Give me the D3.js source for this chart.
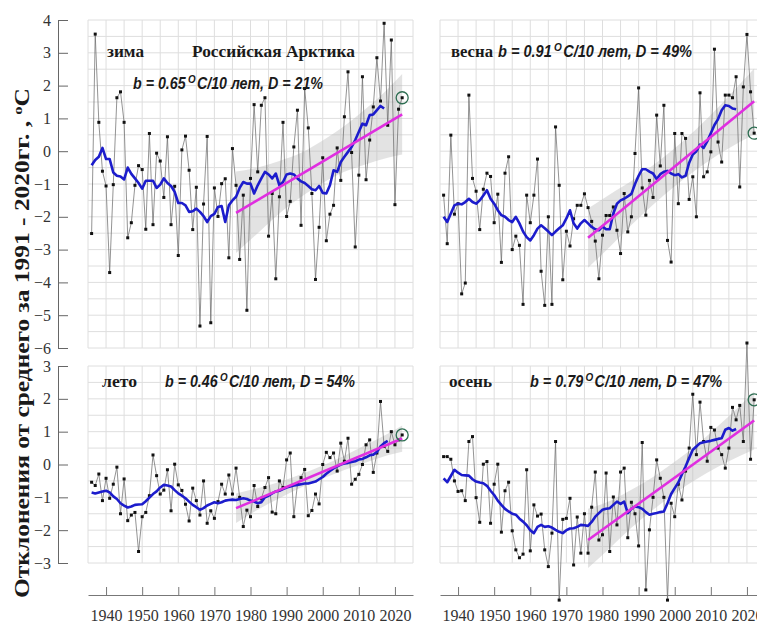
<!DOCTYPE html>
<html>
<head>
<meta charset="utf-8">
<title>Российская Арктика</title>
<script src="https://d3js.org/d3.v7.min.js"></script>
<style>
  body { margin: 0; background: #fff; }
  .serif { font-family: 'Liberation Serif', 'Times New Roman', serif; }
</style>
</head>
<body>
<script>
const width = 757, height = 625;

// ---- data ----
const firstYear = 1936;

// seasonal anomalies 1936-2022, last value is the circled one
const winterVals = [-2.51,3.57,0.88,-0.61,-1.06,-3.70,-1.02,1.63,1.81,0.88,
  -2.64,-2.18,-1.04,-0.44,-0.56,-2.38,0.54,-2.24,-0.06,-0.30,
  -1.41,0.44,-2.24,-1.07,-3.18,0.04,0.46,-0.58,-2.39,-1.10,
  -5.33,-1.61,0.45,-5.23,-1.12,-1.99,-0.99,-0.84,-3.25,0.08,
  -1.04,-3.30,-1.34,-4.85,-0.83,1.42,-0.63,1.40,1.63,-2.59,
  -1.29,-3.89,-1.39,0.88,-1.99,-1.53,0.13,1.25,-2.26,1.91,
  0.71,-1.29,-3.91,-2.32,-0.20,-2.73,-1.92,-1.65,0.10,-0.89,
  1.05,2.42,-0.04,-2.92,-0.73,2.27,-0.87,0.34,1.35,2.85,
  1.53,3.90,0.79,3.39,-1.63,1.28,1.63];
const springVals = [-1.34,-2.82,0.49,-1.92,-1.60,-4.35,-4.02,1.71,-0.83,-1.22,
  -2.39,-1.16,-0.67,-0.77,-2.18,-1.31,-3.39,-0.67,-0.17,-3.00,
  -2.59,-2.87,-4.67,-1.34,-2.18,-1.34,-0.24,-3.66,-4.70,-2.00,
  -4.67,0.74,-1.04,-3.92,-2.44,-2.89,-2.06,-1.65,-1.65,-1.30,
  -1.72,-2.14,-2.74,-3.89,-2.56,-1.96,-1.96,-1.70,-2.41,-3.12,
  -1.29,-2.46,-2.00,-0.07,1.93,-1.12,-1.95,-0.89,-1.41,1.10,
  -0.45,1.40,-2.72,-3.38,0.54,-1.60,0.54,0.39,-1.47,-0.78,
  -2.00,1.78,-0.78,-0.63,-0.02,3.11,0.28,-0.33,1.71,1.71,
  1.63,2.27,-1.09,1.96,3.56,1.81,0.55];
const summerVals = [-0.54,-0.64,-0.29,-1.10,-0.42,-1.03,-0.60,-0.08,-1.50,-0.44,
  -1.71,-1.54,-1.46,-2.65,-1.59,-1.46,-0.95,0.29,-0.34,-0.90,
  -0.78,-0.16,-1.41,0.01,-0.62,-0.79,-1.21,-1.72,-0.72,-1.10,
  -1.54,-0.50,-1.79,-1.41,-1.64,-1.13,-0.60,-0.90,-0.32,-0.90,
  -0.11,-1.00,-1.89,-1.39,-1.59,-0.64,-1.28,-1.03,-0.70,-0.40,
  -1.45,-1.50,-0.50,-0.70,0.14,0.35,-1.59,-0.60,-0.40,-0.15,
  -1.56,-1.40,-0.90,-1.20,0.00,0.37,0.21,0.35,-0.20,0.65,
  0.10,0.80,-0.60,-0.45,-0.30,0.00,0.60,0.75,-0.24,0.35,
  1.92,0.55,0.40,1.00,0.60,0.75,0.90];
const autumnVals = [0.24,0.24,0.16,-0.50,-0.82,-0.80,-1.10,0.70,0.85,-1.01,
  -1.76,0.01,0.09,-1.79,-0.60,0.01,-2.06,-0.80,-0.54,-2.02,
  -2.60,-2.84,-2.73,-0.16,-2.63,-1.23,-1.57,-1.51,-2.60,-3.11,
  -2.09,0.70,-4.13,-1.67,-1.64,-1.03,-3.06,-1.60,-2.70,-1.50,
  -2.70,-1.30,-0.23,-2.30,-2.14,-0.26,-2.65,-0.99,-1.84,-0.23,
  -0.11,-2.23,-1.15,-1.50,-2.48,0.67,-3.82,-1.99,-1.00,0.14,
  -0.42,-1.00,-4.13,-1.18,-1.59,-0.60,-1.08,-0.20,0.50,2.14,
  0.30,1.90,0.70,0.10,1.13,1.05,0.50,0.30,-0.11,0.50,
  1.74,1.36,1.80,0.70,3.70,0.16,1.97];

// smoothed curves (blue), starting 1936
const winterSmooth = [-0.43,-0.27,-0.17,0.10,-0.24,-0.24,-0.65,-0.75,-0.77,-0.86,
  -0.50,-0.69,-0.83,-0.97,-1.14,-0.90,-0.90,-0.90,-1.12,-1.02,
  -0.83,-0.97,-1.06,-1.24,-1.58,-1.58,-1.65,-1.85,-1.83,-1.75,
  -1.85,-1.98,-2.16,-1.98,-1.91,-1.70,-1.67,-2.16,-1.65,-1.50,
  -1.39,-1.12,-0.94,-0.99,-0.99,-1.29,-1.04,-0.83,-0.63,-0.71,
  -0.83,-0.68,-1.04,-0.94,-0.71,-0.68,-0.71,-0.83,-0.92,-0.97,
  -1.06,-1.16,-1.19,-1.06,-1.27,-1.29,-1.04,-0.58,-0.63,-0.33,
  -0.17,-0.02,0.13,0.34,0.59,0.84,0.79,1.10,1.12,1.25,
  1.38,1.30];
const springSmooth = [-2.00,-2.16,-1.90,-1.65,-1.60,-1.62,-1.55,-1.45,-1.55,-1.60,
  -1.50,-1.35,-1.19,-1.45,-1.60,-1.80,-1.95,-2.00,-2.10,-2.16,
  -2.00,-2.20,-2.45,-2.62,-2.72,-2.56,-2.36,-2.26,-2.35,-2.45,
  -2.56,-2.45,-2.35,-2.26,-2.05,-1.80,-2.20,-2.36,-2.20,-2.10,
  -2.20,-2.31,-2.38,-2.41,-2.30,-2.38,-2.38,-1.90,-1.60,-1.50,
  -1.45,-1.38,-1.30,-1.00,-0.75,-0.55,-0.55,-0.62,-0.68,-0.85,
  -0.70,-0.63,-0.60,-0.68,-0.73,-0.70,-0.80,-0.75,-0.35,-0.10,
  0.00,0.20,0.10,0.30,0.55,0.80,0.98,1.25,1.40,1.38,
  1.30,1.28];
const summerSmooth = [-0.85,-0.88,-0.85,-0.82,-0.80,-0.85,-0.97,-1.05,-1.18,-1.25,
  -1.31,-1.28,-1.23,-1.22,-1.21,-1.12,-1.01,-0.90,-0.82,-0.70,
  -0.62,-0.64,-0.67,-0.78,-0.88,-0.95,-1.03,-1.13,-1.23,-1.30,
  -1.38,-1.33,-1.25,-1.20,-1.15,-1.18,-1.15,-1.10,-1.08,-1.07,
  -1.08,-1.05,-1.03,-1.05,-1.10,-1.13,-1.18,-1.15,-1.00,-0.95,
  -0.88,-0.82,-0.80,-0.75,-0.70,-0.67,-0.64,-0.62,-0.60,-0.58,
  -0.58,-0.55,-0.52,-0.45,-0.38,-0.28,-0.20,-0.12,-0.06,0.00,
  0.03,0.05,0.08,0.10,0.15,0.17,0.22,0.28,0.30,0.38,
  0.55,0.65,0.72];
const autumnSmooth = [-0.42,-0.54,-0.35,-0.16,-0.25,-0.32,-0.33,-0.34,-0.45,-0.52,
  -0.55,-0.57,-0.65,-0.80,-0.93,-1.10,-1.23,-1.35,-1.43,-1.50,
  -1.53,-1.65,-1.74,-1.85,-2.00,-2.09,-1.90,-1.84,-1.90,-1.88,
  -1.92,-1.99,-2.05,-2.09,-2.00,-1.95,-1.94,-1.90,-1.84,-1.85,
  -1.87,-1.75,-1.59,-1.48,-1.38,-1.35,-1.33,-1.23,-1.13,-1.20,
  -1.13,-1.48,-1.35,-1.28,-1.30,-1.35,-1.45,-1.53,-1.50,-1.48,
  -1.45,-1.43,-1.18,-0.90,-0.72,-0.55,-0.30,-0.06,0.20,0.45,
  0.55,0.65,0.68,0.70,0.72,0.75,0.78,0.80,1.06,1.11,
  1.03,1.08];

// linear trend 1976-2022 and its confidence band
const trendYears = [1976, 2022];
const winterTrend = [-1.88, 1.12];
const springTrend = [-2.64, 1.52];
const summerTrend = [-1.33, 0.79];
const autumnTrend = [-2.30, 1.34];

const bandYears = [1976, 1982, 1988, 1994, 2000, 2006, 2012, 2018, 2022];
const winterLo = [-3.10, -2.50, -1.90, -1.40, -0.97, -0.63, -0.40, -0.20, -0.10];
const winterHi = [-0.62, -0.50, -0.30, -0.05, 0.33, 0.77, 1.30, 1.90, 2.35];
const springLo = [-3.55, -2.92, -2.25, -1.63, -1.07, -0.56, -0.11, 0.28, 0.52];
const springHi = [-1.75, -1.32, -0.91, -0.43, 0.09, 0.68, 1.33, 2.04, 2.52];
const summerLo = [-1.78, -1.38, -1.03, -0.70, -0.43, -0.17, 0.06, 0.28, 0.39];
const summerHi = [-0.88, -0.72, -0.53, -0.30, -0.03, 0.27, 0.60, 0.94, 1.19];
const autumnLo = [-3.15, -2.55, -1.93, -1.38, -0.88, -0.45, -0.07, 0.26, 0.46];
const autumnHi = [-1.35, -1.11, -0.77, -0.38, 0.08, 0.59, 1.17, 1.78, 2.22];

const seasonNames = ["зима", "весна", "лето", "осень"];
const slopes = ["0.65", "0.91", "0.46", "0.79"];
const shares = ["21", "49", "54", "47"];
const labelYears = [1940, 1950, 1960, 1970, 1980, 1990, 2000, 2010, 2020];

// ---- layout ----
const svg = d3.select("body").append("svg")
  .attr("width", width).attr("height", height)
  .attr("class", "serif");

const xLeft = d3.scaleLinear().domain([1935, 2025]).range([88, 413]);
const xRight = d3.scaleLinear().domain([1935, 2025]).range([440, 765]);
const yTop = d3.scaleLinear().domain([-6, 4]).range([348, 20]);
const yBottom = d3.scaleLinear().domain([-3, 3]).range([563, 366]);

const panels = [
  {x: xLeft,  y: yTop,    vals: winterVals, smooth: winterSmooth, trend: winterTrend, lo: winterLo, hi: winterHi},
  {x: xRight, y: yTop,    vals: springVals, smooth: springSmooth, trend: springTrend, lo: springLo, hi: springHi},
  {x: xLeft,  y: yBottom, vals: summerVals, smooth: summerSmooth, trend: summerTrend, lo: summerLo, hi: summerHi},
  {x: xRight, y: yBottom, vals: autumnVals, smooth: autumnSmooth, trend: autumnTrend, lo: autumnLo, hi: autumnHi}
];

panels.forEach(p => {
  const g = svg.append("g");
  const [y0, y1] = p.y.domain();

  // grid
  g.selectAll(".vg").data(d3.range(1935, 2026, 5)).join("line")
    .attr("x1", d => p.x(d)).attr("x2", d => p.x(d))
    .attr("y1", p.y(y0)).attr("y2", p.y(y1))
    .attr("stroke", "#dedede").attr("stroke-width", 1);
  g.selectAll(".hg").data(d3.range(y0, y1 + 0.01, 0.5)).join("line")
    .attr("x1", p.x(1935)).attr("x2", p.x(2025))
    .attr("y1", d => p.y(d)).attr("y2", d => p.y(d))
    .attr("stroke", "#dedede").attr("stroke-width", 1);

  // confidence band
  const band = bandYears.map((yr, i) => ({yr, lo: p.lo[i], hi: p.hi[i]}));
  g.append("path").datum(band)
    .attr("d", d3.area().x(d => p.x(d.yr)).y0(d => p.y(d.lo)).y1(d => p.y(d.hi))
      .curve(d3.curveMonotoneX))
    .attr("fill", "#bcbcbc").attr("fill-opacity", 0.42);

  // yearly values
  const pts = p.vals.map((v, i) => ({yr: firstYear + i, v}));
  g.append("path").datum(pts)
    .attr("d", d3.line().x(d => p.x(d.yr)).y(d => p.y(d.v)))
    .attr("fill", "none").attr("stroke", "#666").attr("stroke-width", 0.7);
  g.selectAll(".pt").data(pts).join("rect")
    .attr("x", d => p.x(d.yr) - 1.5).attr("y", d => p.y(d.v) - 1.5)
    .attr("width", 3).attr("height", 3).attr("fill", "#111");

  // smoothed curve
  const sm = p.smooth.map((v, i) => ({yr: firstYear + i, v}));
  g.append("path").datum(sm)
    .attr("d", d3.line().x(d => p.x(d.yr)).y(d => p.y(d.v)))
    .attr("fill", "none").attr("stroke", "#1c1ccc").attr("stroke-width", 2.6)
    .attr("stroke-linejoin", "round");

  // trend
  g.append("line")
    .attr("x1", p.x(trendYears[0])).attr("y1", p.y(p.trend[0]))
    .attr("x2", p.x(trendYears[1])).attr("y2", p.y(p.trend[1]))
    .attr("stroke", "#e02ee0").attr("stroke-width", 2.6);

  // last year marker
  const last = pts[pts.length - 1];
  g.append("circle").attr("cx", p.x(last.yr)).attr("cy", p.y(last.v)).attr("r", 6)
    .attr("fill", "none").attr("stroke", "#2e6e52").attr("stroke-width", 1.3);
});

// ---- y axes ----
function yAxis(scale) {
  const [a, b] = scale.domain();
  const g = svg.append("g").attr("transform", "translate(58,0)");
  g.call(d3.axisLeft(scale).tickValues(d3.range(a, b + 0.01, 0.5))
    .tickSizeInner(-5).tickSizeOuter(0).tickFormat(""));
  g.call(d3.axisLeft(scale).tickValues(d3.range(a, b + 0.01, 1))
    .tickSizeInner(-10).tickSizeOuter(0).tickPadding(7).tickFormat(d3.format("d")));
  g.selectAll("path, line").attr("stroke", "#666");
  g.selectAll("text")
    .style("font-family", "'Liberation Serif', 'Times New Roman', serif")
    .style("font-size", "16px").style("fill", "#333");
}
yAxis(yTop);
yAxis(yBottom);

// ---- x rulers ----
function ruler(scale) {
  const g = svg.append("g").attr("transform", "translate(0,595)");
  g.call(d3.axisBottom(scale).tickValues(d3.range(1935, 2026, 1))
    .tickSizeInner(-3).tickSizeOuter(0).tickFormat(""));
  g.call(d3.axisBottom(scale).tickValues(d3.range(1935, 2026, 5))
    .tickSizeInner(-6).tickSizeOuter(0).tickFormat(""));
  g.call(d3.axisBottom(scale).tickValues(labelYears)
    .tickSizeInner(-8).tickSizeOuter(0).tickPadding(15).tickFormat(d3.format("d")));
  g.selectAll("path, line").attr("stroke", "#777");
  g.selectAll("text")
    .style("font-family", "'Liberation Serif', 'Times New Roman', serif")
    .style("font-size", "16px").style("fill", "#333");
}
ruler(xLeft);
ruler(xRight);

// ---- titles ----
function boldSerif(x, y, txt, w) {
  svg.append("text").attr("x", x).attr("y", y).text(txt)
    .attr("textLength", w).attr("lengthAdjust", "spacingAndGlyphs")
    .style("font-size", "17px").style("font-weight", "bold").style("fill", "#1a1a1a");
}
function statText(x, y, w, b, d) {
  const t = svg.append("text").attr("x", x).attr("y", y)
    .style("font-family", "'Liberation Sans', Arial, sans-serif")
    .style("font-size", "16px").style("font-weight", "bold").style("font-style", "italic")
    .style("fill", "#1a1a1a")
    .attr("textLength", w).attr("lengthAdjust", "spacingAndGlyphs");
  t.append("tspan").text(`b = ${b}`);
  t.append("tspan").style("font-size", "11px").attr("dx", 2.5).attr("dy", -6).text("O");
  t.append("tspan").attr("dx", 1.5).attr("dy", 6).text(`C/10 лет, D = ${d}%`);
}

boldSerif(107, 57, seasonNames[0], 37);
boldSerif(192, 57, "Российская Арктика", 163);
statText(133, 89, 190, slopes[0], shares[0]);

boldSerif(451, 57, seasonNames[1], 42);
statText(498, 57, 194, slopes[1], shares[1]);

boldSerif(102, 387, seasonNames[2], 35);
statText(165, 387, 190, slopes[2], shares[2]);

boldSerif(449, 387, seasonNames[3], 43);
statText(530, 387, 192, slopes[3], shares[3]);

// vertical axis title
const yt = svg.append("text")
  .attr("transform", "translate(29,343) rotate(-90)")
  .attr("text-anchor", "middle")
  .style("font-size", "20px").style("font-weight", "bold").style("fill", "#1a1a1a")
  .attr("textLength", 510).attr("lengthAdjust", "spacingAndGlyphs");
yt.append("tspan").text("Отклонения от среднего за 1991 - 2020гг. ,  ");
yt.append("tspan").style("font-size", "13px").attr("dy", -7).text("o");
yt.append("tspan").attr("dy", 7).text("C");
</script>
</body>
</html>
